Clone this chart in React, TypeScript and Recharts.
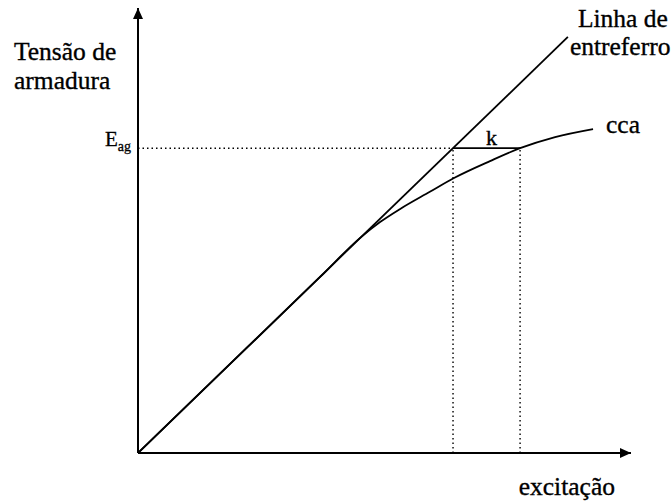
import React from 'react'
import { LineChart, Line, XAxis, YAxis, ReferenceLine, ReferenceDot } from 'recharts'

// Open-circuit characteristic (cca) vs air-gap line, excitation on x, armature voltage on y
const CCA_EXCITATION = [0, 22.7, 36.9, 45.0, 49.1, 53.1, 59.2, 64.1, 71.4, 77.5, 84.6, 92.3]
const CCA_VOLTAGE = [0, 24.3, 39.5, 48.3, 51.9, 54.8, 58.7, 61.8, 65.6, 68.5, 71.0, 72.8]
const AIR_GAP_EXCITATION = [0, 87.2]
const AIR_GAP_VOLTAGE = [0, 93.5]

const E_AG = 68.5
const K_LEFT = 63.9 // air-gap line reaches E_ag
const K_RIGHT = 77.5 // cca reaches E_ag

const ccaData = CCA_EXCITATION.map((x, i) => ({ x, v: CCA_VOLTAGE[i] }))
const airGapData = AIR_GAP_EXCITATION.map((x, i) => ({ x, v: AIR_GAP_VOLTAGE[i] }))

const FONT = '"Liberation Serif", "Times New Roman", serif'
const DOTTED = '1.5 3'

const Note = ({ viewBox, lines, dx = 0, dy = 0, anchor = 'start', size = 25.5, lineGap = 29 }: any) => {
    const x = viewBox.x + viewBox.width / 2 + dx
    const y = viewBox.y + viewBox.height / 2 + dy
    return (
        <text x={x} y={y} textAnchor={anchor} fontFamily={FONT} style={{ fontFamily: FONT }}
            fontSize={size} fill="#000" stroke="#000" strokeWidth={0.35}>
            {lines.map((t: string, i: number) => (
                <tspan key={i} x={x} dy={i === 0 ? 0 : lineGap}>{t}</tspan>
            ))}
        </text>
    )
}

const ArrowUp = ({ cx, cy }: any) => (
    <polygon points={`${cx},${cy} ${cx - 5},${cy + 11} ${cx + 5},${cy + 11}`} fill="#000" />
)

const ArrowRight = ({ cx, cy }: any) => (
    <polygon points={`${cx},${cy} ${cx - 11},${cy - 5} ${cx - 11},${cy + 5}`} fill="#000" />
)

const EagTick = ({ x, y }: any) => (
    <text x={x} y={y - 2} textAnchor="end" fontFamily={FONT} style={{ fontFamily: FONT }}
        fill="#000" stroke="#000" strokeWidth={0.3}>
        <tspan fontSize={21}>E</tspan>
        <tspan fontSize={14} dy={5}>ag</tspan>
    </text>
)

export default function App() {
    return (
        <div style={{ width: 672, height: 503, background: '#fff' }}>
            <style>{`body{margin:0}`}</style>
            <LineChart width={672} height={503} margin={{ top: 8, right: 41, bottom: 49, left: 137 }}>
                <XAxis
                    type="number"
                    dataKey="x"
                    domain={[0, 100]}
                    allowDataOverflow
                    height={1}
                    tick={false}
                    tickLine={false}
                    axisLine={false}
                />
                <YAxis
                    type="number"
                    domain={[0, 100]}
                    allowDataOverflow
                    width={1}
                    ticks={[E_AG]}
                    tick={<EagTick />}
                    tickLine={false}
                    tickSize={0}
                    tickMargin={7}
                    axisLine={false}
                />

                {/* axes */}
                <ReferenceLine x={0} stroke="#000" strokeWidth={2} />
                <ReferenceLine y={0} stroke="#000" strokeWidth={2} />

                {/* E_ag level up to the air-gap line, then the k segment */}
                <ReferenceLine segment={[{ x: 0, y: E_AG }, { x: K_LEFT, y: E_AG }]} stroke="#000" strokeWidth={1.4} strokeDasharray={DOTTED} />
                <ReferenceLine segment={[{ x: K_LEFT, y: E_AG }, { x: K_RIGHT, y: E_AG }]} stroke="#000" strokeWidth={1.8} />
                <ReferenceLine segment={[{ x: K_LEFT, y: 0 }, { x: K_LEFT, y: E_AG }]} stroke="#000" strokeWidth={1.4} strokeDasharray={DOTTED} />
                <ReferenceLine segment={[{ x: K_RIGHT, y: 0 }, { x: K_RIGHT, y: E_AG }]} stroke="#000" strokeWidth={1.4} strokeDasharray={DOTTED} />

                <Line data={airGapData} dataKey="v" type="linear" stroke="#000" strokeWidth={1.8} dot={false} isAnimationActive={false} />
                <Line data={ccaData} dataKey="v" type="monotone" stroke="#000" strokeWidth={1.8} dot={false} isAnimationActive={false} />

                {/* axis arrows and titles */}
                <ReferenceDot x={0} y={100} r={1} shape={<ArrowUp />}
                    label={<Note lines={['Tensão de', 'armadura']} dx={-124} dy={52} />} />
                <ReferenceDot x={100} y={0} r={1} shape={<ArrowRight />}
                    label={<Note lines={['excitação']} dx={-16} dy={42} anchor="end" />} />

                {/* curve names */}
                <ReferenceDot x={AIR_GAP_EXCITATION[1]} y={AIR_GAP_VOLTAGE[1]} r={1} fill="none" stroke="none"
                    label={<Note lines={['Linha de']} dx={100} dy={-10} anchor="end" />} />
                <ReferenceDot x={AIR_GAP_EXCITATION[1]} y={AIR_GAP_VOLTAGE[1]} r={1} fill="none" stroke="none"
                    label={<Note lines={['entreferro']} dx={2} dy={18} />} />
                <ReferenceDot x={CCA_EXCITATION[CCA_EXCITATION.length - 1]} y={CCA_VOLTAGE[CCA_VOLTAGE.length - 1]} r={1} fill="none" stroke="none"
                    label={<Note lines={['cca']} dx={13} dy={4} />} />
                <ReferenceDot x={(K_LEFT + K_RIGHT) / 2} y={E_AG} r={1} fill="none" stroke="none"
                    label={<Note lines={['k']} dx={5} dy={-3} anchor="middle" size={22} />} />
            </LineChart>
        </div>
    )
}
